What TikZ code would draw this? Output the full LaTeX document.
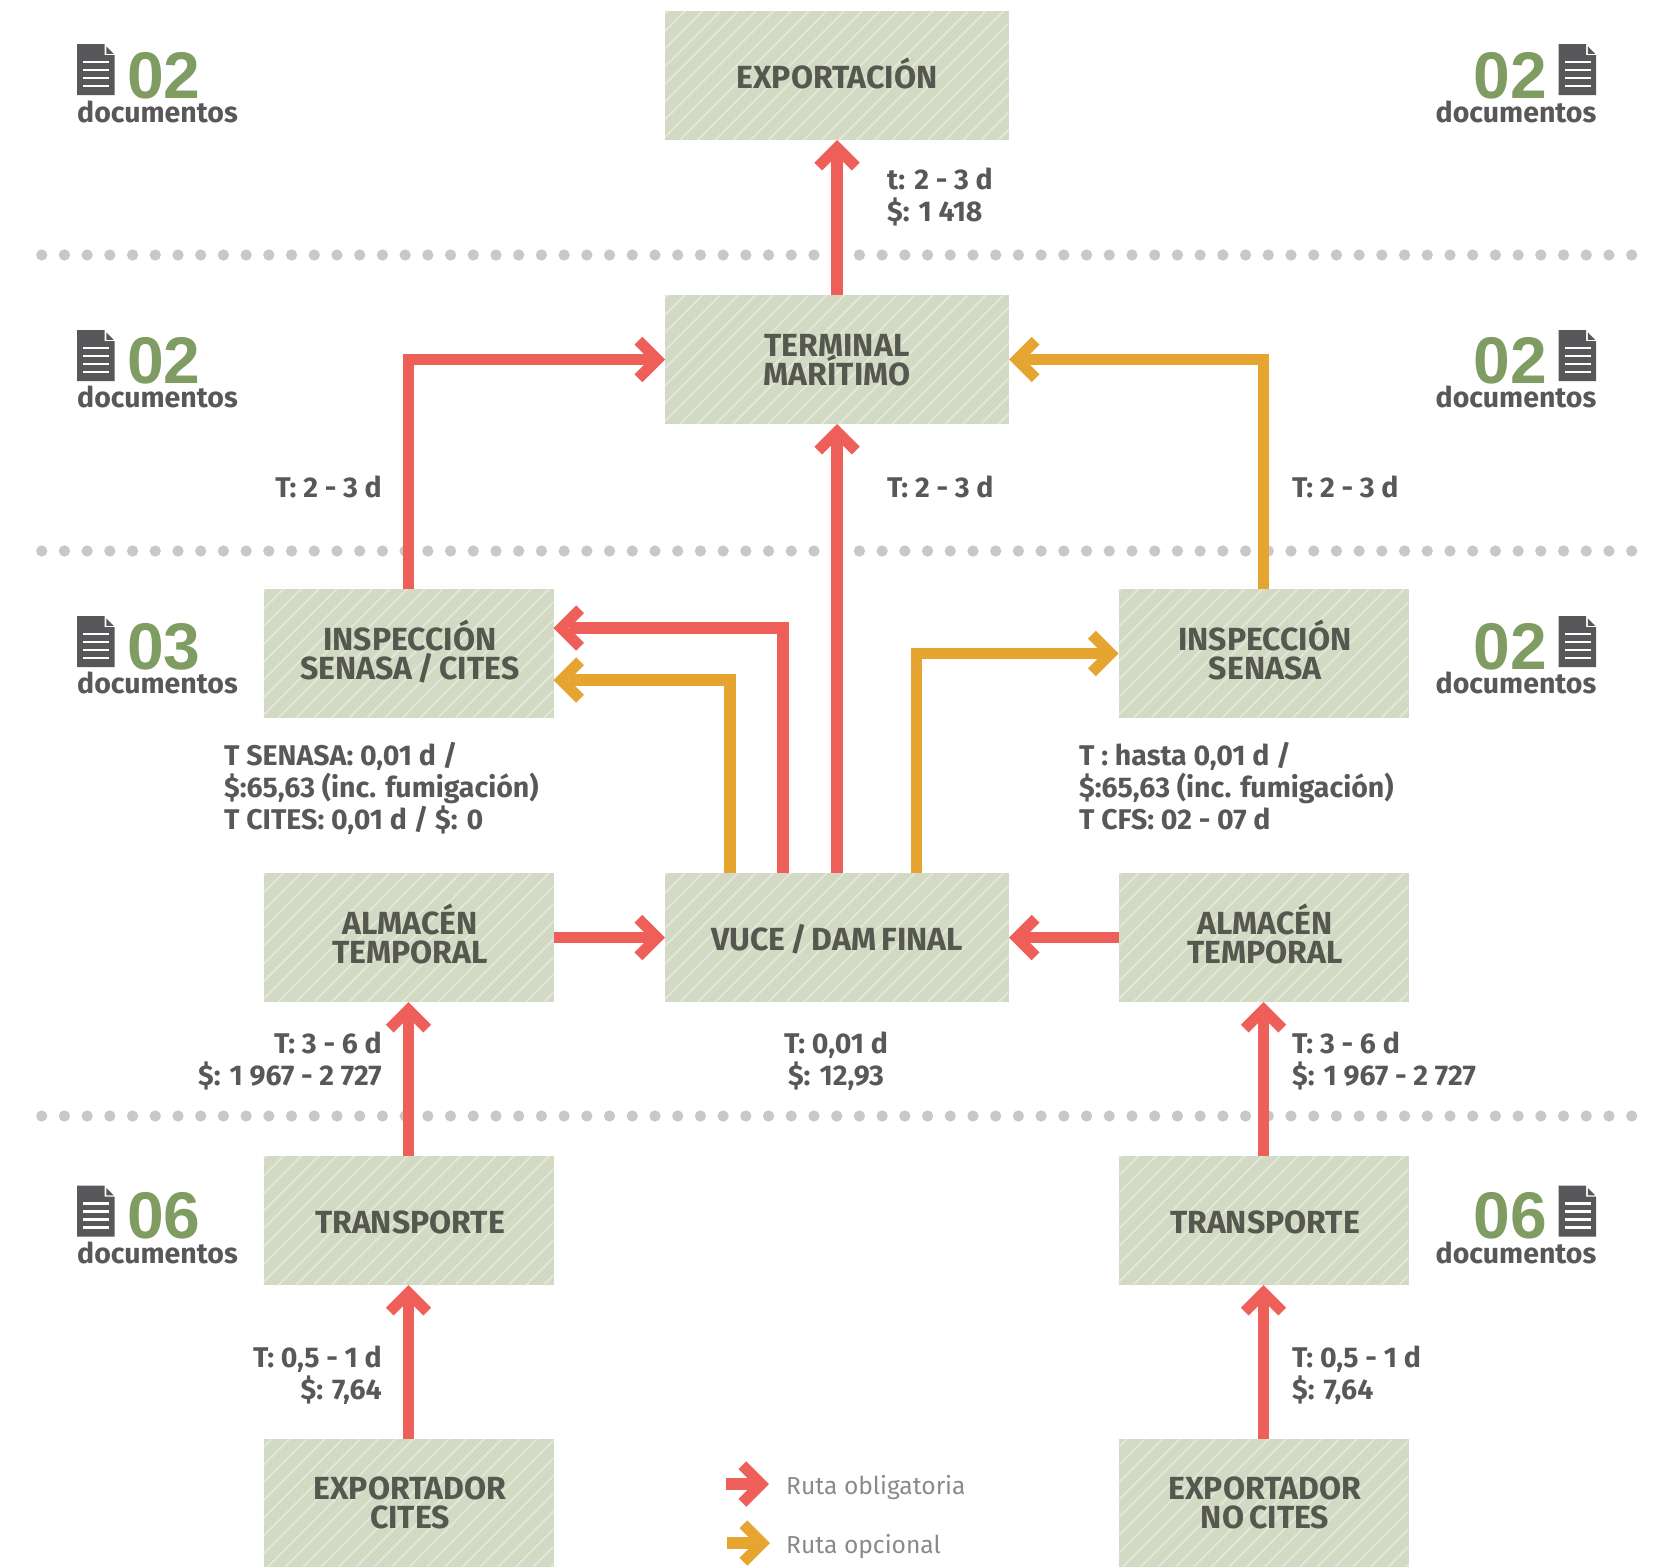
\documentclass[tikz,border=0pt]{standalone}
\usepackage{fontspec}
\setmainfont{Fira Sans}
\newfontfamily\numfont{Liberation Sans}[Scale=1]
\usetikzlibrary{arrows.meta,calc}
\newcommand{\nudgeline}{\hspace*{3pt}}
\pgfdeclarearrow{
  name=Chev,
  setup code={
    \pgfarrowssettipend{0pt}
    \pgfarrowssetlineend{-16pt}
    \pgfarrowssetbackend{-30.5pt}
  },
  drawing code={
    \pgfpathmoveto{\pgfqpoint{0pt}{0pt}}
    \pgfpathlineto{\pgfqpoint{-22.7pt}{22.7pt}}
    \pgfpathlineto{\pgfqpoint{-30.5pt}{14.9pt}}
    \pgfpathlineto{\pgfqpoint{-15.5pt}{0pt}}
    \pgfpathlineto{\pgfqpoint{-30.5pt}{-14.9pt}}
    \pgfpathlineto{\pgfqpoint{-22.7pt}{-22.7pt}}
    \pgfpathclose
    \pgfusepathqfill
  }
}
\definecolor{boxfill}{HTML}{D2DAC4}
\definecolor{boxstripe}{HTML}{E2E7D9}
\definecolor{inkdark}{HTML}{58585A}
\definecolor{boxink}{HTML}{56584F}
\definecolor{numgreen}{HTML}{7F9C62}
\definecolor{routered}{HTML}{EE5F5A}
\definecolor{routeamber}{HTML}{E6A530}
\definecolor{dotgrey}{HTML}{C8C8C8}
\definecolor{legendgrey}{HTML}{8A8A8A}
\tikzset{
  x=1pt,y=-1pt,
  stage/.style={rectangle,inner sep=0pt,outer sep=0pt,fill=boxfill,minimum height=129pt,
    text=boxink,align=center,font=\fontsize{32}{29}\selectfont\bfseries,
    path picture={
      \foreach \k in {-8,...,21}{
        \draw[boxstripe,line width=1.8pt]
          ($(path picture bounding box.south west)+(\k*17.7-2.8,0)$) -- +(220,-220);
      }
    }},
  oneline/.style={execute at begin node={\lineskiplimit=-100pt\spaceskip=5pt\rule{0pt}{30pt}},execute at end node={\rule[-4pt]{0pt}{4pt}}},
  twoline/.style={execute at begin node={\lineskiplimit=-100pt\spaceskip=5pt\rule{0pt}{30pt}},execute at end node={\rule[-8pt]{0pt}{8pt}}},
  wide/.style={stage,minimum width=344pt},
  narrow/.style={stage,minimum width=290pt},
  route/.style={line width=11.5pt,line join=miter,-{Chev}},
  redroute/.style={route,color=routered},
  amberroute/.style={route,color=routeamber},
  dotline/.style={dotgrey,line width=11.3pt,line cap=round,dash pattern=on 0pt off 22.714pt},
  cost/.style={inner sep=0pt,text=inkdark,font=\fontsize{28.5}{28.5}\selectfont\bfseries},
  costl/.style={cost,anchor=base west},
  costr/.style={cost,anchor=base east},
  costc/.style={cost,anchor=base},
  docnum/.style={inner sep=0pt,text=numgreen,font=\fontsize{66}{66}\numfont\bfseries},
  docword/.style={inner sep=0pt,text=inkdark,font=\fontsize{28.5}{28.5}\selectfont\bfseries},
  legendtext/.style={inner sep=0pt,text=legendgrey,anchor=base west,font=\fontsize{24.6}{24.6}\selectfont},
  docicon/.pic={
    \fill[inkdark] (0,0) -- (27.7,0) -- (27.7,11) -- (37.5,11) -- (37.5,51) -- (0,51) -- cycle;
    \fill[inkdark] (29.3,2.3) -- (36.7,9.8) -- (29.3,9.8) -- cycle;
    \foreach \yy in {18,26,34,42}{
      \fill[white] (6,\yy-1.3) rectangle (32,\yy+1.3);
    }
  }
}
\begin{document}
\begin{tikzpicture}
\useasboundingbox (0,0) rectangle (1657,1566);
\clip (0,0) rectangle (1657,1566);

% dotted separators
\coordinate (d1a) at (41.7,255);  \coordinate (d1b) at (1632,255);
\coordinate (d2a) at (41.7,551);  \coordinate (d2b) at (1632,551);
\coordinate (d3a) at (41.7,1116); \coordinate (d3b) at (1632,1116);
\draw[dotline] (d1a) -- (d1b);
\draw[dotline] (d2a) -- (d2b);
\draw[dotline] (d3a) -- (d3b);

% stages
\node[wide,oneline]   (exp)  at (837,75.5)     {EXPORTACIÓN};
\node[wide,twoline] (term) at (837,359.5) {\rule{0pt}{30pt}TERMINAL\\MARÍTIMO};
\node[narrow,twoline] (insl) at (408.5,653.5)  {\nudgeline INSPECCIÓN\\\nudgeline SENASA / CITES};
\node[narrow,twoline] (insr) at (1263.5,653.5) {\nudgeline INSPECCIÓN\\\nudgeline SENASA};
\node[narrow,twoline] (alml) at (408.5,937.5)  {\nudgeline ALMACÉN\\\nudgeline TEMPORAL};
\node[wide,oneline]   (vuce) at (837,937.5)    {VUCE / DAM FINAL};
\node[narrow,twoline] (almr) at (1263.5,937.5) {\nudgeline ALMACÉN\\\nudgeline TEMPORAL};
\node[narrow,oneline] (tral) at (408.5,1220.5) {\nudgeline TRANSPORTE};
\node[narrow,oneline] (trar) at (1263.5,1220.5){\nudgeline TRANSPORTE};
\node[narrow,twoline,minimum height=135pt] (expl) at (408.5,1506.5) {\nudgeline EXPORTADOR\\\nudgeline CITES};
\node[narrow,twoline,minimum height=135pt] (expr) at (1263.5,1506.5){\nudgeline EXPORTADOR\\\nudgeline NO CITES};

% connector helpers
\coordinate (vred)   at (783,873);
\coordinate (vambl)  at (730,873);
\coordinate (vambr)  at (916.5,873);
\coordinate (inslR)  at (553.5,628);
\coordinate (inslA)  at (553.5,680);

% connectors
\draw[redroute] (term.north) -- (exp.south);
\draw[redroute] (insl.north) |- (term.west);
\draw[amberroute] (insr.north) |- (term.east);
\draw[redroute] (vuce.north) -- (term.south);
\draw[amberroute] (vambl) |- (inslA);
\draw[redroute] (vred) |- (inslR);
\draw[amberroute] (vambr) |- (insr.west);
\draw[redroute] (alml.east) -- (vuce.west);
\draw[redroute] (almr.west) -- (vuce.east);
\draw[redroute] (tral.north) -- (alml.south);
\draw[redroute] (trar.north) -- (almr.south);
\draw[redroute] (expl.north) -- (tral.south);
\draw[redroute] (expr.north) -- (trar.south);

% cost labels
\node[costl] (c1)  at (887,189)   {t: 2 - 3 d};
\node[costl] (c2)  at (887,221)   {\$: 1 418};
\node[costr] (c3)  at (382,497)   {T: 2 - 3 d};
\node[costl] (c4)  at (887,497)   {T: 2 - 3 d};
\node[costl] (c5)  at (1292,497)  {T: 2 - 3 d};
\node[costl] (c6)  at (224,765)   {T SENASA: 0,01 d /};
\node[costl] (c7)  at (224,797)   {\$:65,63 (inc. fumigación)};
\node[costl] (c8)  at (224,829)   {T CITES: 0,01 d / \$: 0};
\node[costl] (c9)  at (1079,765)  {T : hasta 0,01 d /};
\node[costl] (c10) at (1079,797)  {\$:65,63 (inc. fumigación)};
\node[costl] (c11) at (1079,829)  {T CFS: 02 - 07 d};
\node[costr] (c12) at (382,1053)  {T: 3 - 6 d};
\node[costr] (c13) at (382,1085)  {\$: 1 967 - 2 727};
\node[costc] (c14) at (836,1053)  {T: 0,01 d};
\node[costc] (c15) at (836,1085)  {\$: 12,93};
\node[costl] (c16) at (1292,1053) {T: 3 - 6 d};
\node[costl] (c17) at (1292,1085) {\$: 1 967 - 2 727};
\node[costr] (c18) at (382,1367)  {T: 0,5 - 1 d};
\node[costr] (c19) at (382,1399)  {\$: 7,64};
\node[costl] (c20) at (1292,1367) {T: 0,5 - 1 d};
\node[costl] (c21) at (1292,1399) {\$: 7,64};

% document counters, left
\pic at (77,44) {docicon};
\node[docnum,anchor=base west] (nl1) at (127,98) {02};
\node[docword,anchor=base west] (wl1) at (77,122) {documentos};
\pic at (77,330) {docicon};
\node[docnum,anchor=base west] (nl2) at (127,383) {02};
\node[docword,anchor=base west] (wl2) at (77,407) {documentos};
\pic at (77,616) {docicon};
\node[docnum,anchor=base west] (nl3) at (127,669) {03};
\node[docword,anchor=base west] (wl3) at (77,693) {documentos};
\pic at (77,1185.5) {docicon};
\node[docnum,anchor=base west] (nl4) at (127,1238) {06};
\node[docword,anchor=base west] (wl4) at (77,1263) {documentos};

% document counters, right
\pic at (1558.5,44) {docicon};
\node[docnum,anchor=base east] (nr1) at (1547,98) {02};
\node[docword,anchor=base east] (wr1) at (1596.5,122) {documentos};
\pic at (1558.5,330) {docicon};
\node[docnum,anchor=base east] (nr2) at (1547,383) {02};
\node[docword,anchor=base east] (wr2) at (1596.5,407) {documentos};
\pic at (1558.5,616) {docicon};
\node[docnum,anchor=base east] (nr3) at (1547,669) {02};
\node[docword,anchor=base east] (wr3) at (1596.5,693) {documentos};
\pic at (1558.5,1185.5) {docicon};
\node[docnum,anchor=base east] (nr4) at (1547,1238) {06};
\node[docword,anchor=base east] (wr4) at (1596.5,1263) {documentos};

% legend
\coordinate (la) at (726,1484); \coordinate (lb) at (769,1484);
\coordinate (lc) at (727,1543); \coordinate (ld) at (770,1543);
\draw[redroute] (la) -- (lb);
\draw[amberroute] (lc) -- (ld);
\node[legendtext] (l1) at (786,1494) {Ruta obligatoria};
\node[legendtext] (l2) at (786,1553) {Ruta opcional};
\end{tikzpicture}
\end{document}
